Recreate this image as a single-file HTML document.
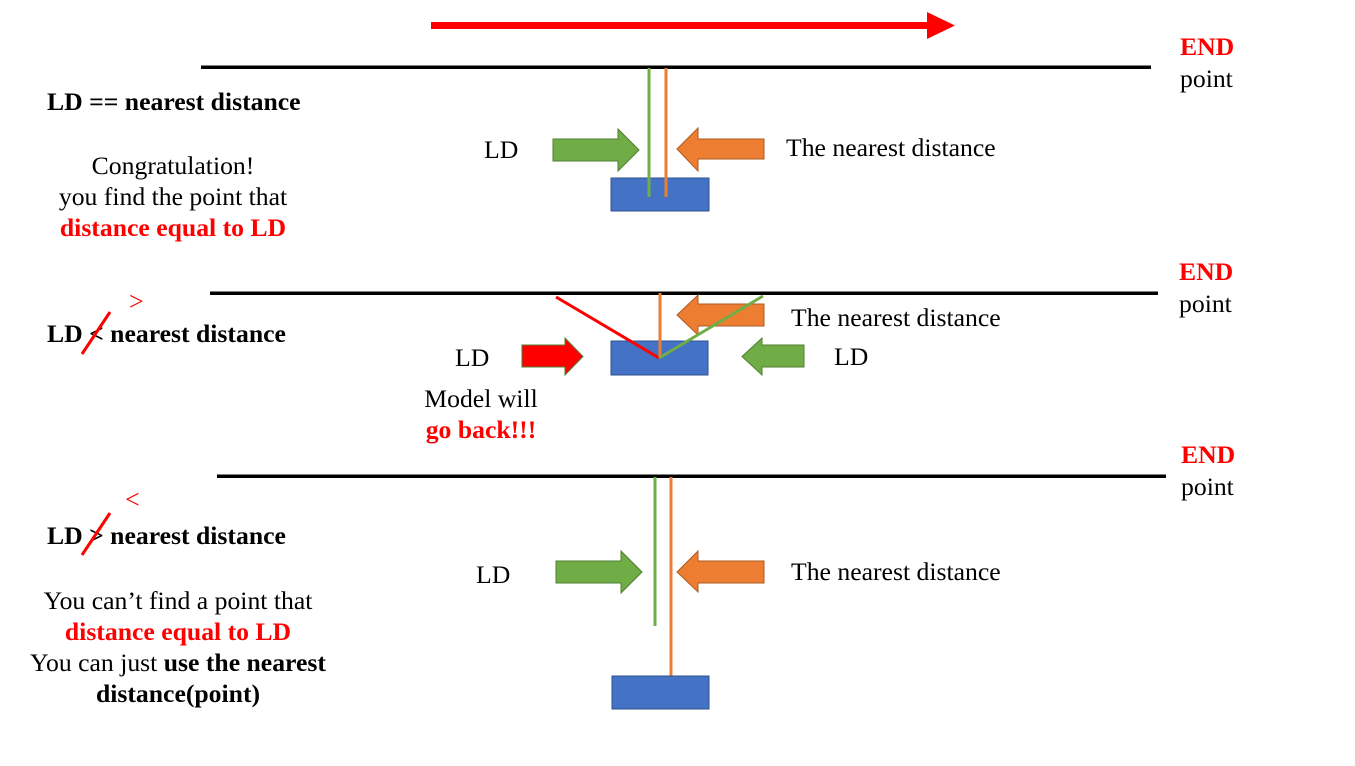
<!DOCTYPE html>
<html><head><meta charset="utf-8"><style>
html,body{margin:0;padding:0;background:#fff;}
svg{display:block;}
text{font-family:"Liberation Serif",serif;font-size:25.7px;fill:#000;}
.b{font-weight:bold;}
.r{fill:#ff0000;font-weight:bold;}
</style></head><body>
<svg width="1355" height="766" viewBox="0 0 1355 766" xmlns="http://www.w3.org/2000/svg">
<rect x="431" y="22" width="498" height="7" fill="#ff0000"/>
<polygon points="927,12 955,25.5 927,39" fill="#ff0000"/>

<!-- Row 1 -->
<rect x="201" y="65.5" width="950" height="3.5" fill="#000"/>
<text x="1180" y="55" class="r">END</text>
<text x="1180" y="87">point</text>
<text x="47" y="110" class="b">LD == nearest distance</text>
<text x="173" y="174" text-anchor="middle">Congratulation!</text>
<text x="173" y="205" text-anchor="middle">you find the point that</text>
<text x="173" y="236" text-anchor="middle" class="r">distance equal to LD</text>
<text x="484" y="158">LD</text>
<text x="786" y="156">The nearest distance</text>
<polygon points="553,139 618,139 618,129 639,150 618,171 618,161 553,161" fill="#70ad47" stroke="#507e32" stroke-width="1"/>
<polygon points="677,149 698,128 698,139 764,139 764,159 698,159 698,171" fill="#ed7d31" stroke="#ae5a21" stroke-width="1"/>
<rect x="611" y="178" width="98" height="33" fill="#4472c4" stroke="#2f528f" stroke-width="1"/>
<line x1="649" y1="68" x2="649" y2="197" stroke="#70ad47" stroke-width="3"/>
<line x1="666" y1="68" x2="666" y2="197" stroke="#ed7d31" stroke-width="3"/>

<!-- Row 2 -->
<rect x="210" y="291.5" width="948" height="3.5" fill="#000"/>
<text x="1179" y="280" class="r">END</text>
<text x="1179" y="312">point</text>
<text x="129" y="310" style="fill:#ff0000;font-size:26px">&gt;</text>
<text x="47" y="342" class="b">LD &lt; nearest distance</text>
<line x1="82" y1="354" x2="110" y2="312" stroke="#ff0000" stroke-width="3"/>
<text x="455" y="366">LD</text>
<text x="834" y="365">LD</text>
<text x="791" y="326">The nearest distance</text>
<text x="481" y="407" text-anchor="middle">Model will</text>
<text x="481" y="438" text-anchor="middle" class="r">go back!!!</text>
<polygon points="522,345 565,345 565,338 583,356.5 565,375 565,367 522,367" fill="#ff0000" stroke="#507e32" stroke-width="1"/>
<rect x="611" y="341" width="97" height="34" fill="#4472c4" stroke="#2f528f" stroke-width="1"/>
<polygon points="677,315 698,295 698,304 764,304 764,326 698,326 698,335" fill="#ed7d31" stroke="#ae5a21" stroke-width="1"/>
<line x1="556" y1="297" x2="659" y2="358" stroke="#ff0000" stroke-width="3"/>
<line x1="660" y1="293" x2="660" y2="358" stroke="#ed7d31" stroke-width="3"/>
<line x1="659" y1="358" x2="763" y2="296" stroke="#70ad47" stroke-width="3"/>
<polygon points="742,356.5 762,338 762,345 804,345 804,367 762,367 762,375" fill="#70ad47" stroke="#507e32" stroke-width="1"/>

<!-- Row 3 -->
<rect x="217" y="474.5" width="949" height="3.5" fill="#000"/>
<text x="1181" y="463" class="r">END</text>
<text x="1181" y="495">point</text>
<text x="125" y="508" style="fill:#ff0000;font-size:26px">&lt;</text>
<text x="47" y="544" class="b">LD &gt; nearest distance</text>
<line x1="82" y1="555" x2="110" y2="513" stroke="#ff0000" stroke-width="3"/>
<text x="476" y="583">LD</text>
<text x="791" y="580">The nearest distance</text>
<polygon points="556,561 621,561 621,551 642,572 621,593 621,583 556,583" fill="#70ad47" stroke="#507e32" stroke-width="1"/>
<polygon points="677,572 698,551 698,561 764,561 764,583 698,583 698,592" fill="#ed7d31" stroke="#ae5a21" stroke-width="1"/>
<line x1="655" y1="477" x2="655" y2="626" stroke="#70ad47" stroke-width="3"/>
<line x1="671" y1="477" x2="671" y2="677" stroke="#ed7d31" stroke-width="3"/>
<rect x="612" y="676" width="97" height="33" fill="#4472c4" stroke="#2f528f" stroke-width="1"/>
<text x="178" y="609" text-anchor="middle">You can’t find a point that</text>
<text x="178" y="640" text-anchor="middle" class="r">distance equal to LD</text>
<text x="178" y="671" text-anchor="middle">You can just <tspan class="b">use the nearest</tspan></text>
<text x="178" y="702" text-anchor="middle" class="b">distance(point)</text>
</svg>
</body></html>
